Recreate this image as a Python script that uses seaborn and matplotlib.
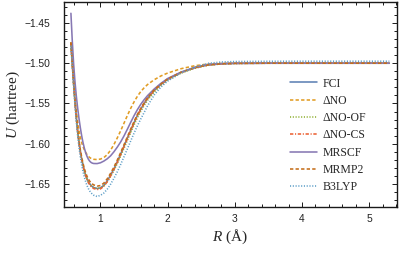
import numpy as np
import pandas as pd
import matplotlib
matplotlib.use("Agg")
import matplotlib.pyplot as plt
import seaborn as sns
from matplotlib.ticker import MultipleLocator, FuncFormatter

R = [0.56, 0.58, 0.60, 0.62, 0.64, 0.66, 0.68, 0.70, 0.72, 0.74, 0.76, 0.78, 0.80, 0.82, 0.84,
     0.86, 0.88, 0.90, 0.95, 1.00, 1.05, 1.10, 1.15, 1.20, 1.25, 1.30, 1.35, 1.40, 1.45, 1.50,
     1.55, 1.60, 1.65, 1.70, 1.80, 1.90, 2.00, 2.20, 2.40, 2.60, 2.80, 3.00, 3.50, 4.00, 5.30]

U_FCI = [-1.4750, -1.5002, -1.5246, -1.5474, -1.5674, -1.5842, -1.5980, -1.6094, -1.6188, -1.6266,
         -1.6335, -1.6390, -1.6435, -1.6470, -1.6497, -1.6518, -1.6533, -1.6544, -1.6556, -1.6548,
         -1.6516, -1.6461, -1.6391, -1.6311, -1.6223, -1.6128, -1.6030, -1.5931, -1.5832, -1.5738,
         -1.5648, -1.5571, -1.5501, -1.5438, -1.5338, -1.5263, -1.5200, -1.5115, -1.5058, -1.5022,
         -1.5007, -1.5002, -1.5000, -1.5000, -1.5000]
U_dNO = [-1.4740, -1.4990, -1.5220, -1.5420, -1.5590, -1.5725, -1.5835, -1.5920, -1.5985, -1.6035,
         -1.6075, -1.6108, -1.6135, -1.6156, -1.6171, -1.6182, -1.6189, -1.6193, -1.6196, -1.6190,
         -1.6172, -1.6135, -1.6080, -1.6010, -1.5928, -1.5840, -1.5745, -1.5650, -1.5560, -1.5480,
         -1.5410, -1.5352, -1.5305, -1.5265, -1.5205, -1.5158, -1.5122, -1.5068, -1.5032, -1.5010,
         -1.5003, -1.5001, -1.5000, -1.5000, -1.5000]
U_dNO_OF = [-1.4750, -1.5003, -1.5247, -1.5476, -1.5676, -1.5844, -1.5982, -1.6096, -1.6190, -1.6268,
            -1.6336, -1.6391, -1.6436, -1.6471, -1.6498, -1.6519, -1.6534, -1.6544, -1.6555, -1.6550,
            -1.6522, -1.6472, -1.6406, -1.6330, -1.6245, -1.6153, -1.6057, -1.5959, -1.5861, -1.5766,
            -1.5676, -1.5597, -1.5525, -1.5461, -1.5358, -1.5279, -1.5213, -1.5123, -1.5063, -1.5026,
            -1.5009, -1.5003, -1.5000, -1.5000, -1.5000]
U_dNO_CS = [-1.4750, -1.5004, -1.5249, -1.5478, -1.5679, -1.5848, -1.5987, -1.6102, -1.6197, -1.6276,
            -1.6346, -1.6401, -1.6447, -1.6482, -1.6509, -1.6530, -1.6545, -1.6556, -1.6568, -1.6560,
            -1.6528, -1.6472, -1.6401, -1.6320, -1.6231, -1.6135, -1.6036, -1.5936, -1.5836, -1.5741,
            -1.5650, -1.5572, -1.5501, -1.5438, -1.5338, -1.5263, -1.5200, -1.5115, -1.5058, -1.5022,
            -1.5007, -1.5002, -1.5000, -1.5000, -1.5000]
U_MRSCF = [-1.4380, -1.4720, -1.5005, -1.5225, -1.5405, -1.5555, -1.5685, -1.5800, -1.5900, -1.5985,
           -1.6055, -1.6112, -1.6157, -1.6192, -1.6216, -1.6232, -1.6241, -1.6245, -1.6246, -1.6236,
           -1.6215, -1.6187, -1.6150, -1.6100, -1.6042, -1.5978, -1.5903, -1.5820, -1.5734, -1.5651,
           -1.5576, -1.5510, -1.5453, -1.5403, -1.5320, -1.5250, -1.5190, -1.5110, -1.5052, -1.5016,
           -1.5005, -1.5001, -1.5000, -1.5000, -1.5000]
U_MRMP2 = [-1.4740, -1.4992, -1.5235, -1.5462, -1.5660, -1.5826, -1.5962, -1.6074, -1.6166, -1.6242,
           -1.6309, -1.6362, -1.6405, -1.6439, -1.6465, -1.6485, -1.6500, -1.6511, -1.6525, -1.6519,
           -1.6489, -1.6436, -1.6368, -1.6290, -1.6203, -1.6110, -1.6013, -1.5915, -1.5817, -1.5724,
           -1.5636, -1.5560, -1.5491, -1.5430, -1.5332, -1.5258, -1.5196, -1.5112, -1.5056, -1.5021,
           -1.5007, -1.5002, -1.5000, -1.5000, -1.5000]
U_B3LYP = [-1.4780, -1.5035, -1.5283, -1.5515, -1.5720, -1.5895, -1.6040, -1.6160, -1.6260, -1.6343,
           -1.6414, -1.6472, -1.6520, -1.6557, -1.6586, -1.6609, -1.6626, -1.6639, -1.6655, -1.6640,
           -1.6612, -1.6565, -1.6503, -1.6430, -1.6348, -1.6258, -1.6162, -1.6064, -1.5965, -1.5868,
           -1.5776, -1.5692, -1.5612, -1.5530, -1.5395, -1.5295, -1.5222, -1.5118, -1.5050, -1.5002,
           -1.4985, -1.4979, -1.4976, -1.4975, -1.4975]

labels = ["FCI", "ΔNO", "ΔNO-OF", "ΔNO-CS", "MRSCF", "MRMP2", "B3LYP"]
series = [U_FCI, U_dNO, U_dNO_OF, U_dNO_CS, U_MRSCF, U_MRMP2, U_B3LYP]
colors = ["#5E81B5", "#E19C24", "#8FB032", "#EB6235", "#8778B3", "#C56E1A", "#5D9EC7"]
dashes = [None, (2.4, 1.6), (0.8, 1.2), (2.4, 1.2, 0.8, 1.2), None, (2.4, 1.6), (0.8, 1.2)]

sns.set_theme(style="ticks")
plt.rcParams["font.family"] = ["Liberation Sans", "DejaVu Sans"]
plt.rcParams["mathtext.fontset"] = "custom"
plt.rcParams["mathtext.it"] = "Liberation Serif:italic"
plt.rcParams["mathtext.rm"] = "Liberation Serif"
plt.rcParams["lines.scale_dashes"] = False

fig = plt.figure(figsize=(3.99, 2.54), dpi=100)
ax = fig.add_axes([64/399, 47/254, (396.7-64)/399, 205/254])

for lab, vals, c, d in zip(labels, series, colors, dashes):
    df = pd.DataFrame({"R": R, "U": vals})
    sns.lineplot(data=df, x="R", y="U", ax=ax, color=c, lw=1.15, label=lab,
                 estimator=None, sort=False)
    line = ax.get_lines()[-1]
    line.set_solid_capstyle("round")
    if d is not None:
        line.set_dashes(d)

ax.set_xlim(0.457, 5.41)
ax.set_ylim(-1.6785, -1.424)
ax.xaxis.set_major_locator(MultipleLocator(1))
ax.xaxis.set_minor_locator(MultipleLocator(0.2))
ax.yaxis.set_major_locator(MultipleLocator(0.05))
ax.yaxis.set_minor_locator(MultipleLocator(0.01))
ax.yaxis.set_major_formatter(FuncFormatter(lambda v, p: "\u2212%.2f" % abs(v)))

for s in ax.spines.values():
    s.set_linewidth(1.0)
    s.set_color("#1a1a1a")
ax.tick_params(which="both", direction="in", top=True, right=True, color="#1a1a1a", width=0.7)
ax.tick_params(which="major", length=3.5)
ax.tick_params(which="minor", length=2)
ax.tick_params(axis="y", which="major", pad=10, labelsize=7.4, labelcolor="#222222")
ax.tick_params(axis="x", which="major", pad=5, labelsize=7.4, labelcolor="#222222")
for t in ax.get_xticklabels() + ax.get_yticklabels():
    t.set_family(["Liberation Sans", "DejaVu Sans"])

ax.set_xlabel(r"$R$ (Å)", fontsize=11, family="Liberation Serif", labelpad=3)
ax.set_ylabel(r"$U$ (hartree)", fontsize=11, family="Liberation Serif", labelpad=1.5)

leg = ax.legend(loc="center left", bbox_to_anchor=(0.679, 0.349), frameon=False,
                borderpad=0, borderaxespad=0, handlelength=2.3, handletextpad=0.45,
                labelspacing=0.45, prop={"family": "Liberation Serif", "size": 8.5})

fig.savefig("out.png", dpi=100)
